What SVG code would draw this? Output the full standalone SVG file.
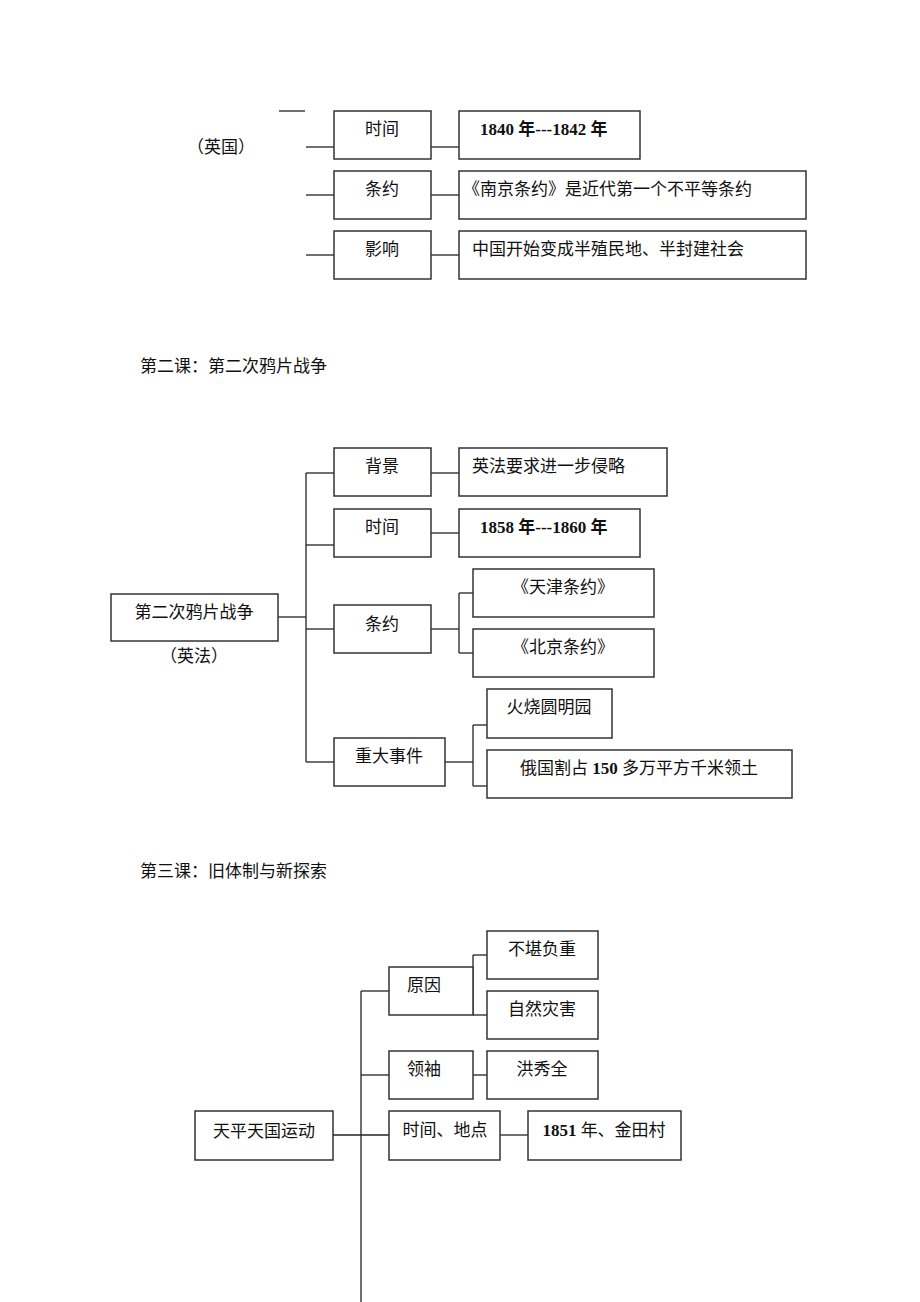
<svg xmlns="http://www.w3.org/2000/svg" width="920" height="1302" viewBox="0 0 920 1302">
<style>
rect{fill:#fff;stroke:#333;stroke-width:1.5}
.c line{stroke:#222;stroke-width:1.3}
text{font-family:"Liberation Serif","Noto Sans CJK SC",serif;font-size:17px;fill:#111}
.b{font-weight:bold}
.m{text-anchor:middle}
</style>
<rect x="0" y="0" width="920" height="1302" style="fill:#fff;stroke:none"/>
<g class="c">
<line x1="279" y1="111" x2="305" y2="111"/>
<line x1="306" y1="147" x2="334" y2="147"/><line x1="431" y1="147" x2="459" y2="147"/>
<line x1="306" y1="195" x2="334" y2="195"/><line x1="431" y1="195" x2="459" y2="195"/>
<line x1="306" y1="255" x2="334" y2="255"/><line x1="431" y1="255" x2="459" y2="255"/>
<line x1="278" y1="617" x2="306" y2="617"/>
<line x1="306" y1="473" x2="306" y2="762"/>
<line x1="306" y1="473" x2="334" y2="473"/><line x1="431" y1="473" x2="459" y2="473"/>
<line x1="306" y1="545" x2="334" y2="545"/><line x1="431" y1="533" x2="459" y2="533"/>
<line x1="306" y1="629" x2="334" y2="629"/><line x1="431" y1="629" x2="459" y2="629"/>
<line x1="459" y1="593" x2="459" y2="653"/><line x1="459" y1="593" x2="473" y2="593"/><line x1="459" y1="653" x2="473" y2="653"/>
<line x1="306" y1="762" x2="334" y2="762"/><line x1="445" y1="762" x2="473" y2="762"/>
<line x1="473" y1="725" x2="473" y2="786"/><line x1="473" y1="725" x2="487" y2="725"/><line x1="473" y1="786" x2="487" y2="786"/>
<line x1="333" y1="1135" x2="389" y2="1135"/>
<line x1="361" y1="991" x2="361" y2="1302"/>
<line x1="361" y1="991" x2="389" y2="991"/>
<line x1="361" y1="1075" x2="389" y2="1075"/><line x1="473" y1="1075" x2="487" y2="1075"/>
<line x1="500" y1="1135" x2="528" y2="1135"/>
<line x1="473" y1="991" x2="473" y2="991"/>
<line x1="473" y1="955" x2="473" y2="1015"/><line x1="473" y1="955" x2="487" y2="955"/><line x1="473" y1="1015" x2="487" y2="1015"/>
</g>
<text x="221" y="153" class="m">（英国）</text>
<g id="s1a"><rect x="334" y="111" width="97" height="48"/><text x="382" y="135" class="m">时间</text></g>
<g id="s1b"><rect x="459" y="111" width="181" height="48"/><text x="480" y="135" class="b">1840 年---1842 年</text></g>
<g id="s1c"><rect x="334" y="171" width="97" height="48"/><text x="382" y="195" class="m">条约</text></g>
<g id="s1d"><rect x="459" y="171" width="347" height="48"/><text x="463" y="195">《南京条约》是近代第一个不平等条约</text></g>
<g id="s1e"><rect x="334" y="231" width="97" height="48"/><text x="382" y="255" class="m">影响</text></g>
<g id="s1f"><rect x="459" y="231" width="347" height="48"/><text x="472" y="255">中国开始变成半殖民地、半封建社会</text></g>
<text x="140" y="372">第二课：第二次鸦片战争</text>
<g id="s2m"><rect x="111" y="594" width="167" height="47"/><text x="194" y="618" class="m">第二次鸦片战争</text><text x="194" y="662" class="m">（英法）</text></g>
<g id="s2a"><rect x="334" y="448" width="97" height="48"/><text x="382" y="472" class="m">背景</text></g>
<g id="s2b"><rect x="459" y="448" width="208" height="48"/><text x="472" y="472">英法要求进一步侵略</text></g>
<g id="s2c"><rect x="334" y="509" width="97" height="48"/><text x="382" y="533" class="m">时间</text></g>
<g id="s2d"><rect x="459" y="509" width="181" height="48"/><text x="480" y="533" class="b">1858 年---1860 年</text></g>
<g id="s2e"><rect x="334" y="605" width="97" height="48"/><text x="382" y="630" class="m">条约</text></g>
<g id="s2f"><rect x="473" y="569" width="181" height="48"/><text x="563" y="593" class="m">《天津条约》</text></g>
<g id="s2g"><rect x="473" y="629" width="181" height="48"/><text x="563" y="653" class="m">《北京条约》</text></g>
<g id="s2h"><rect x="334" y="738" width="111" height="48"/><text x="389" y="762" class="m">重大事件</text></g>
<g id="s2i"><rect x="487" y="689" width="125" height="49"/><text x="549" y="713" class="m">火烧圆明园</text></g>
<g id="s2j"><rect x="487" y="750" width="305" height="48"/><text x="639" y="774" class="m">俄国割占 <tspan class="b">150</tspan> 多万平方千米领土</text></g>
<text x="140" y="877">第三课：旧体制与新探索</text>
<g id="s3m"><rect x="195" y="1111" width="138" height="49"/><text x="264" y="1137" class="m">天平天国运动</text></g>
<g id="s3a"><rect x="389" y="967" width="84" height="48"/><text x="424" y="991" class="m">原因</text></g>
<g id="s3b"><rect x="487" y="931" width="111" height="48"/><text x="542" y="955" class="m">不堪负重</text></g>
<g id="s3c"><rect x="487" y="991" width="111" height="48"/><text x="542" y="1015" class="m">自然灾害</text></g>
<g id="s3d"><rect x="389" y="1051" width="84" height="48"/><text x="424" y="1075" class="m">领袖</text></g>
<g id="s3e"><rect x="487" y="1051" width="111" height="48"/><text x="542" y="1075" class="m">洪秀全</text></g>
<g id="s3f"><rect x="389" y="1111" width="111" height="49"/><text x="445" y="1136" class="m">时间、地点</text></g>
<g id="s3g"><rect x="528" y="1111" width="153" height="49"/><text x="604" y="1136" class="m"><tspan class="b">1851</tspan> 年、金田村</text></g>
</svg>
